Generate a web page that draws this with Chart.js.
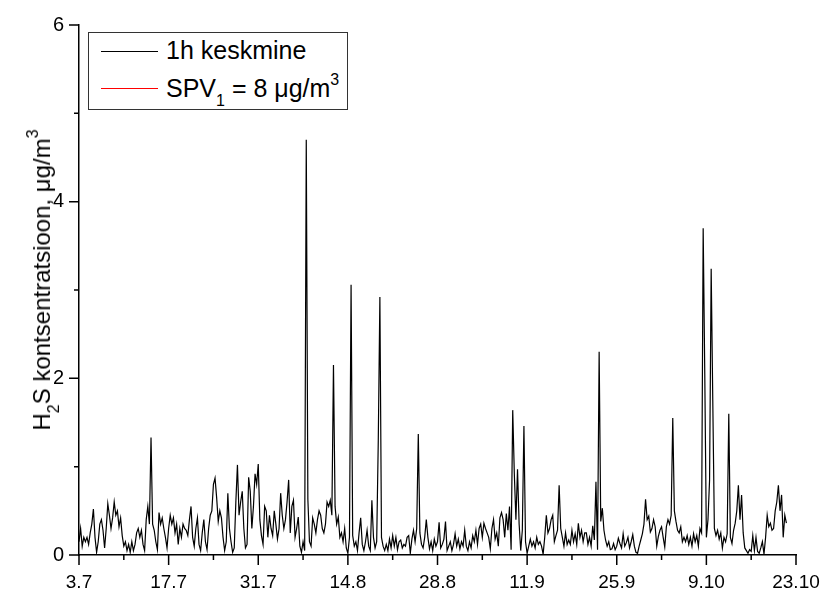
<!DOCTYPE html>
<html>
<head>
<meta charset="utf-8">
<script src="https://cdn.jsdelivr.net/npm/chart.js@4.4.1/dist/chart.umd.min.js"></script>
<style>
  html, body { margin: 0; padding: 0; background: #fff; }
  #wrap { position: relative; width: 823px; height: 593px; font-family: "Liberation Sans", Arial, sans-serif; color: #000; }
  #chart { position: absolute; left: 0; top: 0; }
  .ytitle { position: absolute; left: 42px; top: 280px; transform: translate(-50%, -50%) rotate(-90deg); font-size: 24px; white-space: nowrap; }
  .legend { position: absolute; left: 88px; top: 32px; width: 260px; height: 78px; border: 1px solid #333; background: #fff; box-sizing: border-box; }
  .legend .sample { position: absolute; left: 12px; width: 57px; height: 0; border-top: 1px solid #000; }
  .legend .text { position: absolute; left: 77px; font-size: 25px; line-height: 24px; white-space: nowrap; }
  .sub, .sup { font-size: 16px; position: relative; }
  .sub { top: 9px; }
  .sup { top: -12px; }
</style>
</head>
<body>
<div id="wrap">
  <canvas id="chart" width="823" height="593"></canvas>
  <div class="ytitle">H<span class="sub">2</span>S kontsentratsioon, μg/m<span class="sup">3</span></div>
  <div class="legend">
    <div class="sample" style="top:18px"></div>
    <div class="text" style="top:5px">1h keskmine</div>
    <div class="sample" style="top:55px;border-top-color:#f00"></div>
    <div class="text" style="top:43px">SPV<span class="sub">1</span> = 8 μg/m<span class="sup">3</span></div>
  </div>
</div>
<script>
/* ---- Data: H2S concentration, one value every 6 hours from 3.7 00:00 ---- */
const STEP_DAYS = 0.25;
const X_MAX = 112;
const SPV_LIMIT = 8;

const tickLabels = ["3.7", "17.7", "31.7", "14.8", "28.8", "11.9", "25.9", "9.10", "23.10"];

const julyValues = [
  0.15, 0.3, 0.1, 0.2,
  0.15, 0.2, 0.12, 0.25, 0.35, 0.52, 0.2,
  0.03, 0.15, 0.35, 0.4, 0.28, 0.08, 0.3, 0.58, 0.45, 0.3,
  0.42, 0.6, 0.45, 0.5, 0.32, 0.42, 0.22, 0.1, 0.15, 0.05,
  0.12, 0.03, 0.15, 0.05, 0.12, 0.25, 0.3, 0.2, 0.28, 0.12,
  0.05, 0.4, 0.55, 0.35, 1.33, 0.35, 0.28, 0.15, 0.06, 0.48,
  0.35, 0.42, 0.3, 0.2, 0.08, 0.3, 0.45, 0.35, 0.42, 0.25,
  0.35, 0.12, 0.3, 0.2, 0.35, 0.3,
  0.28, 0.22, 0.4, 0.55, 0.2, 0.1, 0.3, 0.42, 0.12, 0.05,
  0.25, 0.4, 0.15, 0.06, 0.3, 0.45, 0.5, 0.8, 0.87, 0.65,
  0.38, 0.5, 0.42, 0.2, 0.05, 0.15, 0.7, 0.3, 0.15, 0.03,
  0.08, 0.6, 1.02, 0.45, 0.6, 0.72, 0.3, 0.08, 0.12, 0.88,
  0.72, 0.3, 0.55, 0.92, 0.8, 1.03, 0.4, 0.22, 0.12
];

const augustValues = [
  0.55, 0.5, 0.2, 0.45, 0.3, 0.22, 0.5, 0.35, 0.18, 0.3, 0.7, 0.45, 0.3,
  0.4, 0.6, 0.85, 0.25, 0.55, 0.62, 0.2, 0.3, 0.43, 0.1, 0.03, 0.15, 0.05,
  4.7, 0.63, 0.15, 0.1, 0.42, 0.35, 0.25, 0.4, 0.5, 0.45,
  0.3, 0.25, 0.35, 0.6, 0.55, 0.62, 0.45, 2.15, 0.55, 0.35,
  0.43, 0.2, 0.25, 0.15, 0.3, 0.08, 0.02, 0.2, 3.06, 0.22,
  0.1, 0.15, 0.05, 0.25, 0.42, 0.12, 0.05, 0.15, 0.28, 0.1,
  0.05, 0.62, 0.2, 0.08, 0.15, 1.3, 2.92, 0.2, 0.1, 0.05,
  0.12, 0.05, 0.18, 0.08, 0.22, 0.1, 0.2, 0.06, 0.15, 0.17,
  0.08, 0.12, 0.1, 0.2, 0.22, 0.02, 0.18, 0.28, 0.15, 0.3,
  1.37, 0.25, 0.12, 0.08, 0.2, 0.4, 0.2, 0.07, 0.15, 0.05,
  0.18, 0.1, 0.15, 0.37, 0.08, 0.12, 0.18, 0.38, 0.05, 0.1,
  0.15, 0.05, 0.12, 0.24, 0.1, 0.18, 0.07, 0.15
];

const septemberValues = [
  0.1, 0.28, 0.1, 0.05, 0.15, 0.08, 0.22, 0.15, 0.28, 0.12,
  0.3, 0.35, 0.2, 0.36, 0.3, 0.25, 0.2, 0.07, 0.3, 0.4,
  0.18, 0.25, 0.1, 0.42, 0.48, 0.4, 0.2, 0.47, 0.28, 0.55,
  0.06, 1.64, 0.92, 0.4, 0.97, 0.35, 0.05, 0.28, 1.46, 0.15,
  0.02, 0.1, 0.18, 0.1, 0.15, 0.08, 0.2, 0.12, 0.15, 0.1,
  0.01, 0.2, 0.45, 0.25, 0.3, 0.4, 0.45, 0.15, 0.22, 0.28,
  0.79, 0.3, 0.2, 0.1, 0.25, 0.12, 0.17, 0.12, 0.28, 0.15,
  0.24, 0.12, 0.36, 0.2, 0.28, 0.15, 0.25, 0.25, 0.12, 0.2,
  0.1, 0.33, 0.17, 0.83, 0.06, 2.3, 0.38, 0.53, 0.28, 0.17,
  0.1, 0.15, 0.06, 0.07, 0.13, 0.06, 0.1, 0.19, 0.13, 0.08,
  0.24, 0.1, 0.14, 0.2, 0.08, 0.15, 0.23, 0.1, 0.03, 0.02,
  0.1, 0.17, 0.24, 0.35, 0.63, 0.4, 0.44, 0.26, 0.3, 0.4
];

const octoberValues = [
  0.32, 0.1, 0.21, 0.28, 0.32, 0.2, 0.09, 0.32, 0.4, 0.35,
  0.45, 1.55, 0.5, 0.38, 0.28, 0.25, 0.32, 0.15, 0.2, 0.15,
  0.22, 0.12, 0.2, 0.1, 0.24, 0.15, 0.22, 0.1, 0.3, 0.25,
  3.7, 2.05, 0.2, 0.4, 0.85, 3.24, 1.75, 0.3, 0.22, 0.28,
  0.18, 0.25, 0.08, 0.2, 0.15, 0.24, 1.6, 0.2, 0.13, 0.28,
  0.36, 0.5, 0.79, 0.4, 0.68, 0.25, 0.08, 0.05, 0.02, 0.06,
  0.04, 0.22, 0.05, 0.2, 0.04, 0.02, 0.08, 0.15, 0.01, 0.2,
  0.45, 0.32, 0.36, 0.28, 0.3, 0.5, 0.6, 0.79, 0.5, 0.68, 0.2, 0.45, 0.36
];

const h2sValues = [...julyValues, ...augustValues, ...septemberValues, ...octoberValues];
const h2sPoints = h2sValues.map((v, i) => ({ x: i * STEP_DAYS, y: v }));
const spvPoints = [{ x: 0, y: SPV_LIMIT }, { x: X_MAX, y: SPV_LIMIT }];

/* Origin-style tick marks: long at labelled ticks, short in between */
const tickMarks = {
  id: "tickMarks",
  afterDraw(chart) {
    const { ctx, chartArea, scales: { x, y } } = chart;
    ctx.save();
    ctx.strokeStyle = "#000";
    ctx.lineWidth = 1.5;
    ctx.beginPath();
    x.ticks.forEach((t) => {
      const px = x.getPixelForValue(t.value);
      const len = t.value % 14 === 0 ? 10 : 5;
      ctx.moveTo(px, chartArea.bottom);
      ctx.lineTo(px, chartArea.bottom + len);
    });
    y.ticks.forEach((t) => {
      const py = y.getPixelForValue(t.value);
      const len = t.value % 2 === 0 ? 10 : 5;
      ctx.moveTo(chartArea.left, py);
      ctx.lineTo(chartArea.left - len, py);
    });
    ctx.stroke();
    ctx.restore();
  },
};

new Chart(document.getElementById("chart"), {
  type: "line",
  data: {
    datasets: [
      {
        label: "1h keskmine",
        data: h2sPoints,
        borderColor: "#000",
        borderWidth: 1.2,
        pointRadius: 0,
        tension: 0,
      },
      {
        label: "SPV1 = 8 μg/m3",
        data: spvPoints,
        borderColor: "#f00",
        borderWidth: 1,
        pointRadius: 0,
      },
    ],
  },
  options: {
    responsive: false,
    animation: false,
    layout: { padding: { top: 25, right: 27, left: 0, bottom: 0 } },
    plugins: { legend: { display: false }, tooltip: { enabled: false } },
    scales: {
      x: {
        type: "linear",
        min: 0,
        max: X_MAX,
        afterFit: (s) => {
          s.height = 38;
          s.paddingLeft = 0;
          s.paddingRight = 0;
        },
        grid: { display: false, drawTicks: false },
        border: { display: true, color: "#000", width: 1.5 },
        ticks: {
          stepSize: 7,
          autoSkip: false,
          maxRotation: 0,
          padding: 16,
          color: "#000",
          font: { family: '"Liberation Sans", Arial, sans-serif', size: 19 },
          callback: (v) => (v % 14 === 0 ? tickLabels[v / 14] : ""),
        },
      },
      y: {
        min: 0,
        max: 6,
        afterFit: (s) => {
          s.width = 79;
          s.paddingTop = 0;
          s.paddingBottom = 0;
        },
        grid: { display: false, drawTicks: false },
        border: { display: true, color: "#000", width: 1.5 },
        ticks: {
          stepSize: 1,
          padding: 15,
          color: "#000",
          font: { family: '"Liberation Sans", Arial, sans-serif', size: 20 },
          callback: (v) => (v % 2 === 0 ? v : ""),
        },
      },
    },
  },
  plugins: [tickMarks],
});
</script>
</body>
</html>
